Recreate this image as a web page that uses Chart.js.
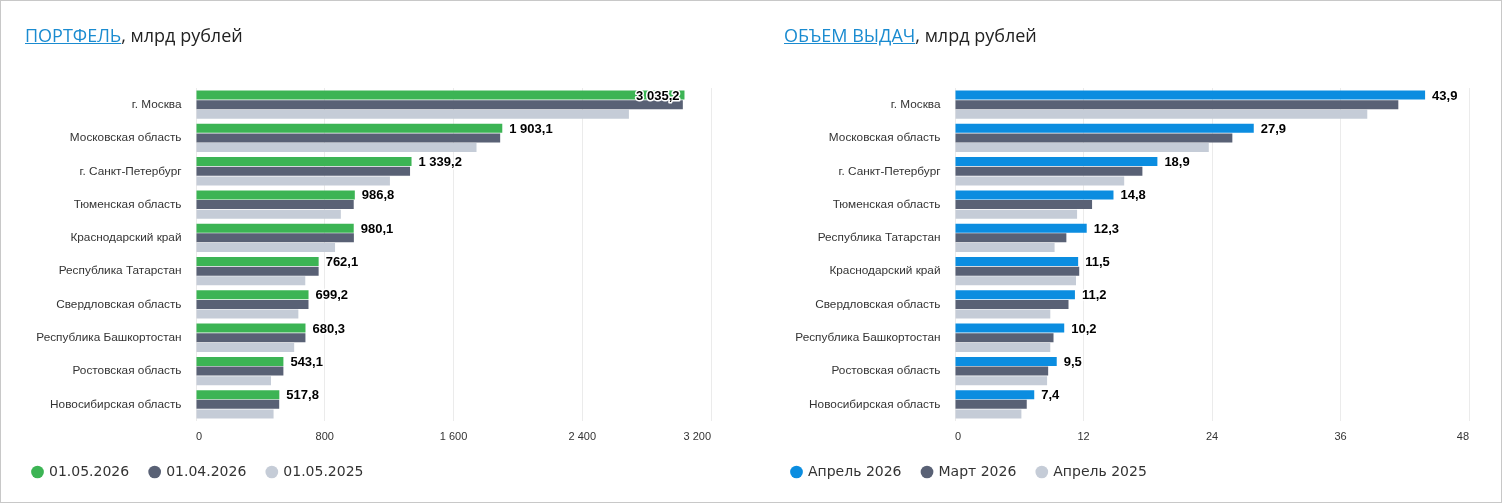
<!DOCTYPE html>
<html lang="ru">
<head>
<meta charset="utf-8">
<title>Портфель и объем выдач</title>
<script src="https://cdn.jsdelivr.net/npm/chart.js@4.4.1/dist/chart.umd.min.js"></script>
<style>
  html, body { margin: 0; padding: 0; background: #fff; }
  #page { position: relative; width: 1502px; height: 503px; overflow: hidden; }
  #frame { position: absolute; left: 0; top: 0; width: 1500px; height: 501px; border: 1px solid #c8c8c8; pointer-events: none; }
  .title { position: absolute; top: 23px; font-family: "Open Sans", sans-serif; font-size: 18px; line-height: 24px; color: #222; white-space: nowrap; }
  .title a { color: #1a8bd0; text-decoration: underline; }
  .box { position: absolute; top: 0; width: 751px; height: 503px; }
</style>
</head>
<body>
<div id="page">
  <div class="box" style="left:0"><canvas id="portfolioChart"></canvas></div>
  <div class="box" style="left:751px"><canvas id="volumeChart"></canvas></div>
  <div class="title" style="left:25px"><a href="#">ПОРТФЕЛЬ</a>, млрд рублей</div>
  <div class="title" style="left:784px"><a href="#">ОБЪЕМ ВЫДАЧ</a>, млрд рублей</div>
  <div id="frame"></div>
</div>
<script>
// --------------------------
// Data
// --------------------------
const portfolioRegions = ["г. Москва", "Московская область", "г. Санкт-Петербург", "Тюменская область", "Краснодарский край", "Республика Татарстан", "Свердловская область", "Республика Башкортостан", "Ростовская область", "Новосибирская область"];
const portfolioLegend = ["01.05.2026", "01.04.2026", "01.05.2025"];
const portfolioMay2026 = [3035.2, 1903.1, 1339.2, 986.8, 980.1, 762.1, 699.2, 680.3, 543.1, 517.8];
const portfolioApr2026 = [3025, 1890, 1330, 980, 981, 762, 699, 680, 543, 517];
const portfolioMay2025 = [2690, 1743, 1205, 900, 864, 679, 636, 610, 466, 482];
const portfolioTicks = [0, 800, 1600, 2400, 3200];

const volumeRegions = ["г. Москва", "Московская область", "г. Санкт-Петербург", "Тюменская область", "Республика Татарстан", "Краснодарский край", "Свердловская область", "Республика Башкортостан", "Ростовская область", "Новосибирская область"];
const volumeLegend = ["Апрель 2026", "Март 2026", "Апрель 2025"];
const volumeApr2026 = [43.9, 27.9, 18.9, 14.8, 12.3, 11.5, 11.2, 10.2, 9.5, 7.4];
const volumeMar2026 = [41.4, 25.9, 17.5, 12.8, 10.4, 11.6, 10.6, 9.2, 8.7, 6.7];
const volumeApr2025 = [38.5, 23.7, 15.8, 11.4, 9.3, 11.3, 8.9, 8.9, 8.6, 6.2];
const volumeTicks = [0, 12, 24, 36, 48];

// --------------------------
// Helpers
// --------------------------
Chart.defaults.font.family = "'Liberation Sans', Arial, sans-serif";
Chart.defaults.font.size = 11;
Chart.defaults.color = "#333";

function groupThousands(s) {
  return s.replace(/\B(?=(\d{3})+(?!\d))/g, " ");
}

function formatValue(v) {
  const parts = v.toFixed(1).split(".");
  return groupThousands(parts[0]) + "," + parts[1];
}

// value labels next to the first series of every group
const barValueLabels = {
  id: "barValueLabels",
  afterDatasetsDraw(chart) {
    const ctx = chart.ctx;
    const meta = chart.getDatasetMeta(0);
    const values = chart.data.datasets[0].data;
    ctx.save();
    ctx.font = "bold 13px 'Liberation Sans', Arial, sans-serif";
    ctx.textBaseline = "middle";
    ctx.lineJoin = "round";
    ctx.lineWidth = 3;
    ctx.strokeStyle = "#fff";
    ctx.fillStyle = "#000";
    meta.data.forEach((bar, i) => {
      const text = formatValue(values[i]);
      const w = ctx.measureText(text).width;
      let x = bar.x + 7;
      if (x + w > chart.chartArea.right) x = bar.x - 5 - w;
      const y = bar.y + 1;
      ctx.strokeText(text, x, y);
      ctx.fillText(text, x, y);
    });
    ctx.restore();
  },
};

function buildChart(id, regions, names, series, colors, ticks, pad) {
  return new Chart(document.getElementById(id), {
    type: "bar",
    data: {
      labels: regions,
      datasets: series.map((data, i) => ({
        label: names[i],
        data: data,
        backgroundColor: colors[i],
        borderWidth: 0,
        barPercentage: 0.93,
        categoryPercentage: 0.87,
      })),
    },
    options: {
      indexAxis: "y",
      responsive: true,
      maintainAspectRatio: false,
      animation: false,
      layout: { padding: { top: 88, left: pad.left, right: pad.right, bottom: 14 } },
      scales: {
        x: {
          min: ticks[0],
          max: ticks[ticks.length - 1],
          afterBuildTicks: (scale) => {
            scale.ticks = ticks.map((v) => ({ value: v }));
          },
          afterFit: (scale) => {
            scale.height = 23;
          },
          grid: { color: "#ebebeb", drawTicks: false },
          border: { display: false },
          ticks: {
            padding: 9,
            align: "inner",
            maxRotation: 0,
            callback: (v) => groupThousands(String(v)),
          },
        },
        y: {
          afterFit: (scale) => {
            scale.width = pad.axis;
          },
          grid: { display: false, drawTicks: false },
          border: { display: false },
          ticks: { padding: 14.5, autoSkip: false, font: { size: 11.8 } },
        },
      },
      plugins: {
        tooltip: { enabled: false },
        legend: {
          position: "bottom",
          align: "start",
          labels: {
            usePointStyle: true,
            pointStyle: "circle",
            boxWidth: 9,
            boxHeight: 9,
            padding: 21,
            color: "#333",
            font: { family: "'DejaVu Sans', sans-serif", size: 14 },
          },
        },
      },
    },
    plugins: [barValueLabels],
  });
}

// --------------------------
// Charts
// --------------------------
const portfolioChart = buildChart(
  "portfolioChart",
  portfolioRegions,
  portfolioLegend,
  [portfolioMay2026, portfolioApr2026, portfolioMay2025],
  ["#3cb454", "#596175", "#c5ccd7"],
  portfolioTicks,
  { left: 12, right: 40, axis: 184 }
);

const volumeChart = buildChart(
  "volumeChart",
  volumeRegions,
  volumeLegend,
  [volumeApr2026, volumeMar2026, volumeApr2025],
  ["#0b8de0", "#596175", "#c5ccd7"],
  volumeTicks,
  { left: 20, right: 33, axis: 184 }
);
</script>
</body>
</html>
